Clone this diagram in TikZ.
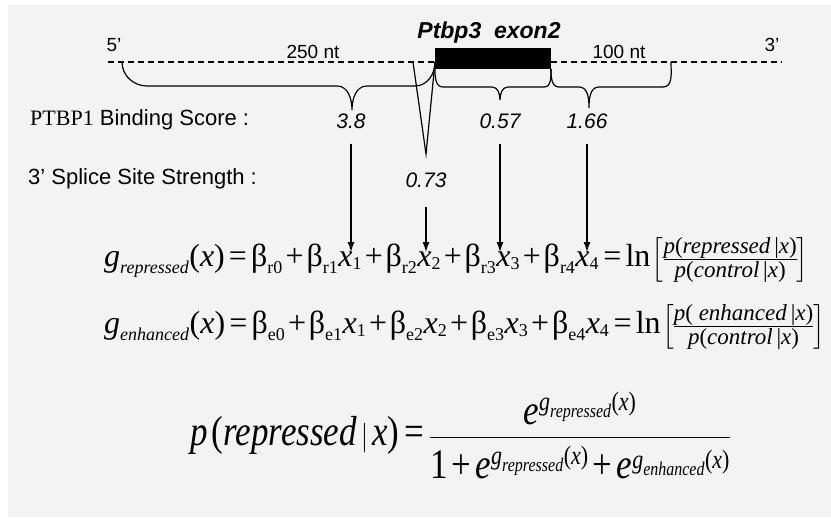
\documentclass[tikz,border=0pt]{standalone}
\usepackage{amsmath}
\usepackage{graphicx}
\usepackage{fontspec}
\setmainfont{Liberation Serif}
\setsansfont{Liberation Sans}
\usetikzlibrary{arrows.meta,positioning}
\DeclareMathSizes{32}{32}{18}{13}
\DeclareMathSizes{35}{35}{22}{16}
\definecolor{PTBgray}{RGB}{243,243,243}
\tikzstyle{lbl}  = [inner sep=0pt, font=\sffamily\fontsize{22}{24}\selectfont]
\tikzstyle{ntl}  = [inner sep=0pt, font=\sffamily\fontsize{19}{22}\selectfont]
\tikzstyle{val}  = [inner sep=0pt, font=\sffamily\itshape\fontsize{21}{24}\selectfont]
\tikzstyle{eqn}  = [inner sep=0pt, anchor=base west, font=\fontsize{32}{38}\selectfont]
\tikzstyle{brc}  = [line width=1.2pt]
\newcommand{\mi}[1]{\textnormal{\itshape #1}}
\newcommand{\bt}[1]{\textnormal{β}_{\textnormal{#1}}}
\newcommand{\xs}[1]{\mi{x}_{\textnormal{#1}}}
\newcommand{\pl}{\mathbin{\textnormal{+}}}
\newcommand{\eqs}{\mathrel{\textnormal{=}}}
\newcommand{\po}{\textnormal{(}}
\newcommand{\pc}{\textnormal{)}}
\newcommand{\fr}[1]{\textnormal{\fontsize{23}{27}\selectfont #1}}
\newcommand{\lnb}{\mathord{\textnormal{ln}}\mskip-2mu}
\newcommand{\tightmath}[2]{\medmuskip=#1mu\relax\thickmuskip=#2mu\relax\nulldelimiterspace=0pt\relax}

\begin{document}
\begin{tikzpicture}[x=1pt, y=-1pt, >={Latex[length=10pt,width=7pt]}]

  \useasboundingbox (0,0) rectangle (831,519);
  \fill[white] (0,0) rectangle (831,519);
  \fill[PTBgray] (8,5) rectangle (831,517);

  % gene model
  \draw[line width=1.2pt, dash pattern=on 6pt off 4pt] (108,62) -- (435,62);
  \draw[line width=1.2pt, dash pattern=on 6pt off 4pt] (551,62) -- (782,62);
  \fill[black] (435,48) rectangle (551,69);
  \node[ntl] (p5) at (114,45) {5’};
  \node[ntl] (p3) at (772,45) {3’};
  \node[ntl] (up) at (313,52) {250 nt};
  \node[ntl] (dn) at (619,52) {100 nt};
  \node[lbl, font=\sffamily\bfseries\itshape\fontsize{23}{25}\selectfont] (exon) at (489,33) {Ptbp3\ \ exon2};

  % braces and splice site
  \draw[brc] (122,62) to[out=-90,in=180] (147,86) -- (337,86)
    to[out=0,in=90] (352,110) to[out=90,in=180] (367,86) -- (415,86)
    to[out=0,in=-90] (435,62);
  \draw[brc] (435,69) to[out=-90,in=180] (443,87) -- (492,87)
    to[out=0,in=90] (500,100) to[out=90,in=180] (508,87) -- (544,87)
    to[out=0,in=-90] (551,69);
  \draw[brc] (551,69) to[out=-90,in=180] (559,87) -- (579,87)
    to[out=0,in=90] (589,108) to[out=90,in=180] (599,87) -- (663,87)
    to[out=0,in=-90] (671,62);
  \draw[brc] (413,62) -- (426,154) -- (435,62);

  % scores
  \node[lbl, anchor=west] (bind) at (30,120) {{\rmfamily PTBP1} Binding Score :};
  \node[lbl, anchor=west] (ss) at (28,179) {3’ Splice Site Strength :};
  \node[val] (v1) at (351,121) {3.8};
  \node[val] (v2) at (426,180) {0.73};
  \node[val] (v3) at (500,121) {0.57};
  \node[val] (v4) at (587,121) {1.66};

  % models
  \node[eqn] (grep) at (104,266) {$\tightmath{2}{3}\mi{g}_{\mi{repressed}}\po\mi{x}\pc \eqs \bt{r0} \pl \bt{r1}\xs{1} \pl \bt{r2}\xs{2} \pl \bt{r3}\xs{3} \pl \bt{r4}\xs{4} \eqs \lnb\left[\frac{\fr{\textit{p}(\textit{repressed}\,|\textit{x})}}{\fr{\textit{p}(\textit{control}\,|\textit{x})}}\right]$};
  \node[eqn] (genh) at (104,333) {$\tightmath{2}{3}\mi{g}_{\mi{enhanced}}\po\mi{x}\pc \eqs \bt{e0} \pl \bt{e1}\xs{1} \pl \bt{e2}\xs{2} \pl \bt{e3}\xs{3} \pl \bt{e4}\xs{4} \eqs \lnb\left[\frac{\fr{\textit{p}( \textit{enhanced}\,|\textit{x})}}{\fr{\textit{p}(\textit{control}\,|\textit{x})}}\right]$};
  \node[eqn, font=\fontsize{35}{40}\selectfont] (prob) at (190,445) {\scalebox{1}[1.2]{$\tightmath{3}{4}\mi{p}\,\po\mi{repressed}\,|\,\mi{x}\pc \eqs \dfrac{\mi{e}^{\mi{g}_{\mi{repressed}}\po\mi{x}\pc}}{\rule{0pt}{31pt}\textnormal{1} \pl \mi{e}^{\mi{g}_{\mi{repressed}}\po\mi{x}\pc} \pl \mi{e}^{\mi{g}_{\mi{enhanced}}\po\mi{x}\pc}}$}};

  \coordinate (x1) at (351,252);
  \coordinate (x2) at (426,252);
  \coordinate (x3) at (500,252);
  \coordinate (x4) at (587,252);
  \draw[brc, ->, shorten <=15pt] (v1) -- (x1);
  \draw[brc, ->, shorten <=19pt] (v2) -- (x2);
  \draw[brc, ->, shorten <=15pt] (v3) -- (x3);
  \draw[brc, ->, shorten <=15pt] (v4) -- (x4);

\end{tikzpicture}
\end{document}
